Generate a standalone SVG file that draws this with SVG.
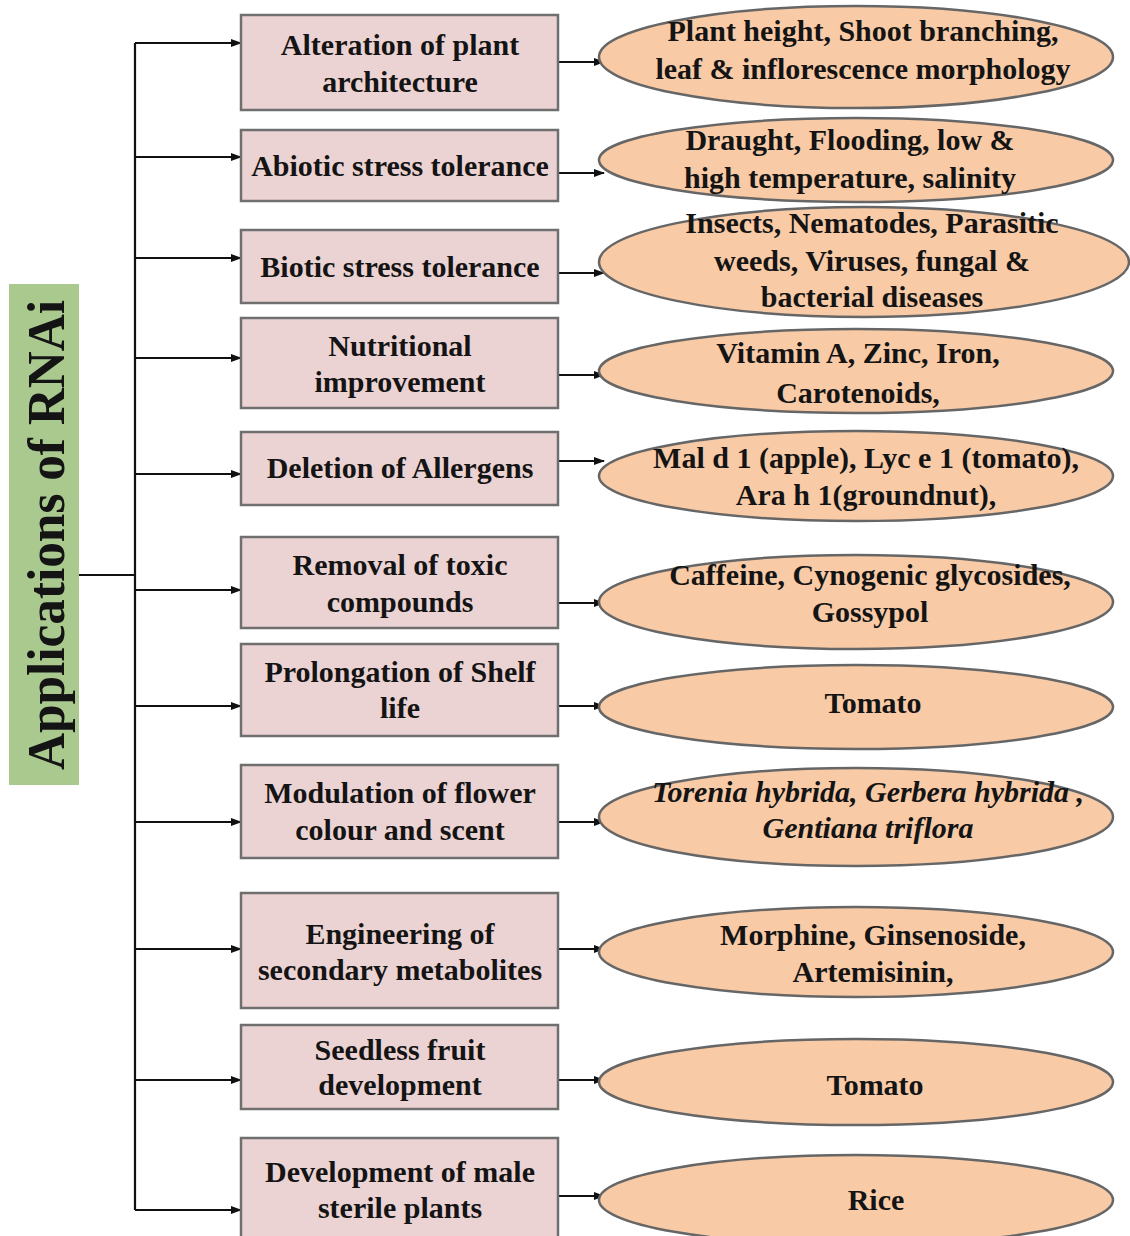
<svg xmlns="http://www.w3.org/2000/svg" width="1130" height="1236" viewBox="0 0 1130 1236">
<defs>
<marker id="ah" markerWidth="11" markerHeight="10" refX="10" refY="5" orient="auto" markerUnits="userSpaceOnUse">
<path d="M0,1 L11,5 L0,9 Z" fill="#111"/>
</marker>
<style>
.box{fill:#ecd3d3;stroke:#6f6f6f;stroke-width:2.5}
.ell{fill:#f8caa6;stroke:#666;stroke-width:2.5}
.t{font-family:"Liberation Serif","Times New Roman",serif;font-weight:bold;font-size:30px;fill:#141414;text-anchor:middle}
.i{font-style:italic}
.c{stroke:#111;stroke-width:2.2;fill:none}
.a{marker-end:url(#ah)}
</style>
</defs>
<rect width="1130" height="1236" fill="#fff"/>
<g id="title">
<rect x="9" y="284" width="70" height="501" fill="#a9c98f"/>
<text class="t" transform="translate(64,535) rotate(-90)" style="font-size:52px" textLength="470" lengthAdjust="spacingAndGlyphs">Applications of RNAi</text>
</g>
<g id="connectors">
<path class="c" d="M79,575 H135"/>
<path class="c" d="M135,43 V1210"/>
<path class="c a" d="M135,43 H241"/>
<path class="c a" d="M135,157 H241"/>
<path class="c a" d="M135,258 H241"/>
<path class="c a" d="M135,358 H241"/>
<path class="c a" d="M135,474 H241"/>
<path class="c a" d="M135,590 H241"/>
<path class="c a" d="M135,706 H241"/>
<path class="c a" d="M135,822 H241"/>
<path class="c a" d="M135,949 H241"/>
<path class="c a" d="M135,1080 H241"/>
<path class="c a" d="M135,1210 H241"/>
<path class="c a" d="M558,62 H604"/>
<path class="c a" d="M558,173 H604"/>
<path class="c a" d="M558,273 H604"/>
<path class="c a" d="M558,375 H604"/>
<path class="c a" d="M558,461 H604"/>
<path class="c a" d="M558,603 H604"/>
<path class="c a" d="M558,706 H604"/>
<path class="c a" d="M558,822 H604"/>
<path class="c a" d="M558,949 H604"/>
<path class="c a" d="M558,1080 H604"/>
<path class="c a" d="M558,1196 H604"/>
</g>
<g id="n1"><rect class="box" x="241" y="15" width="317" height="95"/><text class="t" x="400" y="55">Alteration of plant</text><text class="t" x="400" y="92">architecture</text></g>
<g id="n2"><rect class="box" x="241" y="130" width="317" height="71"/><text class="t" x="400" y="176">Abiotic stress tolerance</text></g>
<g id="n3"><rect class="box" x="241" y="230" width="317" height="73"/><text class="t" x="400" y="277">Biotic stress tolerance</text></g>
<g id="n4"><rect class="box" x="241" y="318" width="317" height="90"/><text class="t" x="400" y="356">Nutritional</text><text class="t" x="400" y="392">improvement</text></g>
<g id="n5"><rect class="box" x="241" y="432" width="317" height="73"/><text class="t" x="400" y="478">Deletion of Allergens</text></g>
<g id="n6"><rect class="box" x="241" y="537" width="317" height="91"/><text class="t" x="400" y="575">Removal of toxic</text><text class="t" x="400" y="612">compounds</text></g>
<g id="n7"><rect class="box" x="241" y="644" width="317" height="92"/><text class="t" x="400" y="682">Prolongation of Shelf</text><text class="t" x="400" y="718">life</text></g>
<g id="n8"><rect class="box" x="241" y="765" width="317" height="93"/><text class="t" x="400" y="803">Modulation of flower</text><text class="t" x="400" y="840">colour and scent</text></g>
<g id="n9"><rect class="box" x="241" y="893" width="317" height="115"/><text class="t" x="400" y="944">Engineering of</text><text class="t" x="400" y="980">secondary metabolites</text></g>
<g id="n10"><rect class="box" x="241" y="1025" width="317" height="84"/><text class="t" x="400" y="1060">Seedless fruit</text><text class="t" x="400" y="1095">development</text></g>
<g id="n11"><rect class="box" x="241" y="1138" width="317" height="104"/><text class="t" x="400" y="1182">Development of male</text><text class="t" x="400" y="1218">sterile plants</text></g>
<g id="e1"><ellipse class="ell" cx="856" cy="57" rx="257" ry="51"/><text class="t" x="863" y="41">Plant height, Shoot branching,</text><text class="t" x="863" y="79">leaf &amp; inflorescence morphology</text></g>
<g id="e2"><ellipse class="ell" cx="856" cy="160" rx="257" ry="42"/><text class="t" x="850" y="150">Draught, Flooding, low &amp;</text><text class="t" x="850" y="188">high temperature, salinity</text></g>
<g id="e3"><ellipse class="ell" cx="864" cy="262" rx="265" ry="55"/><text class="t" x="872" y="233">Insects, Nematodes, Parasitic</text><text class="t" x="872" y="271">weeds, Viruses, fungal &amp;</text><text class="t" x="872" y="307">bacterial diseases</text></g>
<g id="e4"><ellipse class="ell" cx="856" cy="371" rx="257" ry="42"/><text class="t" x="858" y="363">Vitamin A, Zinc, Iron,</text><text class="t" x="858" y="403">Carotenoids,</text></g>
<g id="e5"><ellipse class="ell" cx="856" cy="476" rx="257" ry="45"/><text class="t" x="866" y="468">Mal d 1 (apple), Lyc e 1 (tomato),</text><text class="t" x="866" y="505">Ara h 1(groundnut),</text></g>
<g id="e6"><ellipse class="ell" cx="856" cy="602" rx="257" ry="47"/><text class="t" x="870" y="585">Caffeine, Cynogenic glycosides,</text><text class="t" x="870" y="622">Gossypol</text></g>
<g id="e7"><ellipse class="ell" cx="856" cy="707" rx="257" ry="42"/><text class="t" x="873" y="713">Tomato</text></g>
<g id="e8"><ellipse class="ell" cx="856" cy="817" rx="257" ry="49"/><text class="t i" x="868" y="802">Torenia hybrida, Gerbera hybrida ,</text><text class="t i" x="868" y="838">Gentiana triflora</text></g>
<g id="e9"><ellipse class="ell" cx="856" cy="952" rx="257" ry="45"/><text class="t" x="873" y="945">Morphine, Ginsenoside,</text><text class="t" x="873" y="982">Artemisinin,</text></g>
<g id="e10"><ellipse class="ell" cx="856" cy="1082" rx="257" ry="43"/><text class="t" x="875" y="1095">Tomato</text></g>
<g id="e11"><ellipse class="ell" cx="856" cy="1200" rx="257" ry="45"/><text class="t" x="876" y="1210">Rice</text></g>
</svg>
